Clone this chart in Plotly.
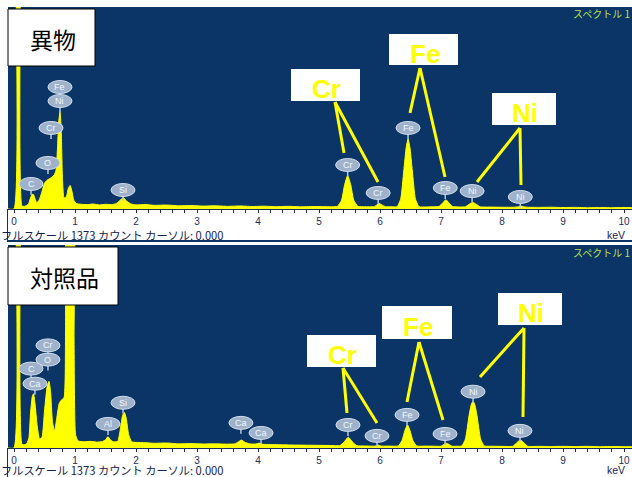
import plotly.graph_objects as go

W, H = 632, 477
FULL_SCALE = 1373

# ---------------- data ----------------
# 異物 (foreign matter) spectrum: energy (keV) / counts
top_kev = [-0.10, 0.00, 0.015, 0.03, 0.10, 0.115, 0.13, 0.17, 0.21, 0.24, 0.27, 0.30, 0.32, 0.345,
           0.37, 0.40, 0.43, 0.46, 0.50, 0.54, 0.58, 0.62, 0.66, 0.69, 0.715, 0.735, 0.755,
           0.775, 0.795, 0.82, 0.86, 0.89, 0.92, 0.95, 0.98, 1.02, 1.10, 1.20, 1.30, 1.40,
           1.50, 1.60, 1.67, 1.73, 1.79, 1.85, 1.92, 2.00, 2.15, 2.30, 2.50, 2.70, 2.90,
           3.10, 3.30, 3.50, 3.70, 3.90, 4.10, 4.30, 4.50, 4.70, 4.90, 5.10, 5.30, 5.37,
           5.42, 5.47, 5.52, 5.57, 5.64, 5.75, 5.90, 5.95, 5.99, 6.03, 6.09, 6.18, 6.28,
           6.34, 6.39, 6.43, 6.46, 6.49, 6.53, 6.58, 6.64, 6.75, 6.88, 6.97, 7.03, 7.08,
           7.13, 7.19, 7.30, 7.40, 7.46, 7.52, 7.58, 7.64, 7.80, 8.00, 8.20, 8.27, 8.31,
           8.35, 8.42, 8.60, 8.80, 9.00, 9.20, 9.40, 9.60, 9.80, 10.00, 10.20]
top_cnt = [0, 0, 2200, 2600, 2600, 2200, 20, 18, 25, 35, 75, 100, 98, 70,
           45, 52, 80, 120, 175, 195, 205, 215, 232, 265, 430, 600, 662,
           520, 200, 75, 85, 140, 160, 120, 60, 38, 32, 30, 34, 28,
           32, 30, 36, 55, 78, 52, 34, 28, 30, 25, 27, 22, 24,
           20, 22, 18, 21, 17, 19, 16, 18, 15, 17, 16, 18, 60,
           165, 228, 165, 60, 18, 15, 16, 28, 38, 28, 16, 15, 16,
           70, 260, 420, 476, 420, 260, 70, 16, 14, 15, 18, 42, 63,
           42, 17, 14, 15, 32, 45, 32, 15, 13, 12, 12, 16, 20,
           16, 12, 11, 12, 10, 11, 9, 10, 9, 10, 9]

# 対照品 (reference sample) spectrum
bot_kev = [-0.10, 0.00, 0.015, 0.03, 0.10, 0.115, 0.13, 0.17, 0.21, 0.245, 0.27, 0.30, 0.32,
           0.345, 0.38, 0.42, 0.46, 0.50, 0.545, 0.574, 0.60, 0.63, 0.665, 0.70, 0.74,
           0.78, 0.82, 0.845, 0.865, 0.88, 0.96, 0.985, 1.01, 1.05, 1.15, 1.25, 1.35,
           1.45, 1.50, 1.54, 1.58, 1.63, 1.70, 1.74, 1.78, 1.81, 1.84, 1.88, 1.93, 2.00,
           2.15, 2.30, 2.50, 2.70, 2.90, 3.10, 3.30, 3.50, 3.62, 3.68, 3.73, 3.78, 3.86,
           3.96, 4.02, 4.08, 4.20, 4.40, 4.60, 4.80, 5.00, 5.20, 5.34, 5.41, 5.48, 5.55,
           5.62, 5.75, 5.92, 5.97, 6.02, 6.15, 6.30, 6.36, 6.41, 6.45, 6.49, 6.54, 6.60,
           6.75, 6.90, 7.00, 7.05, 7.09, 7.13, 7.18, 7.26, 7.34, 7.40, 7.46, 7.50, 7.525,
           7.55, 7.59, 7.65, 7.71, 7.85, 8.00, 8.18, 8.24, 8.30, 8.36, 8.42, 8.60, 8.80,
           9.00, 9.20, 9.40, 9.60, 9.80, 10.00, 10.20]
bot_cnt = [0, 0, 2200, 2600, 2600, 2200, 25, 22, 30, 70, 230, 350, 367,
           300, 150, 60, 75, 250, 420, 451, 380, 180, 115, 200, 300,
           326, 340, 800, 2600, 2600, 2600, 700, 90, 48, 42, 45, 40,
           44, 55, 77, 55, 42, 45, 120, 220, 240, 200, 90, 42, 38,
           36, 32, 34, 28, 30, 27, 28, 26, 28, 42, 54, 40, 28,
           27, 33, 25, 24, 22, 20, 19, 18, 17, 16, 40, 73, 40,
           16, 14, 13, 20, 13, 13, 14, 50, 120, 156, 120, 50, 14,
           13, 12, 12, 25, 32, 25, 12, 12, 14, 60, 220, 300, 315,
           300, 220, 60, 14, 12, 11, 12, 35, 54, 35, 12, 11, 10,
           11, 10, 11, 9, 10, 9, 9]

tick_vals = [0, 1, 2, 3, 4, 5, 6, 7, 8, 9, 10]
tick_text = ["0", "1", "2", "3", "4", "5", "6", "7", "8", "9", "10"]

# element badges: (element, keV, counts)
top_badges = [("Fe", 0.754, 829), ("Ni", 0.754, 734), ("Cr", 0.607, 551), ("O", 0.557, 313),
              ("C", 0.279, 170), ("Si", 1.787, 129), ("Cr", 5.47, 299), ("Cr", 5.97, 109),
              ("Fe", 6.46, 551), ("Fe", 7.07, 143), ("Ni", 7.51, 122), ("Ni", 8.30, 82)]
bot_badges = [("Cr", 0.557, 694), ("O", 0.557, 598), ("C", 0.279, 537), ("Ca", 0.344, 435),
              ("Al", 1.541, 163), ("Si", 1.787, 306), ("Ca", 3.72, 170), ("Ca", 4.05, 102),
              ("Cr", 5.475, 156), ("Cr", 5.951, 82), ("Fe", 6.443, 224), ("Fe", 7.066, 95),
              ("Ni", 7.525, 381), ("Ni", 8.295, 116)]

panel_titles = ["異物", "対照品"]
footer_text = "フルスケール 1373 カウント カーソル: 0.000"
spectrum_name = "スペクトル 1"

# ---------------- layout helpers (pixel -> paper) ----------------
def PX(x):
    return x / W


def PY(y):
    return 1 - y / H


NAVY = "#0a3566"
YEL = "#ffff00"
AXC = "#1c2c5c"

X_RANGE = [(8 - 14) / 61, (632 - 14) / 61]
TOP = (7, 209)
BOT = (245, 448)

fig = go.Figure()
fig.add_trace(go.Scatter(x=top_kev, y=top_cnt, mode="lines", fill="tozeroy",
                         line=dict(color=YEL, width=1, shape="spline", smoothing=0.5),
                         fillcolor=YEL, xaxis="x", yaxis="y", hoverinfo="skip"))
fig.add_trace(go.Scatter(x=bot_kev, y=bot_cnt, mode="lines", fill="tozeroy",
                         line=dict(color=YEL, width=1, shape="spline", smoothing=0.5),
                         fillcolor=YEL, xaxis="x2", yaxis="y2", hoverinfo="skip"))

xax = dict(range=X_RANGE, domain=[PX(8), 1], showgrid=False, zeroline=False,
           showline=True, linecolor=AXC, linewidth=1, ticks="outside", ticklen=3,
           tickwidth=1, tickcolor=AXC, tickvals=tick_vals, ticktext=tick_text,
           tickfont=dict(family="Liberation Sans", size=10, color=AXC),
           minor=dict(ticks="outside", dtick=0.2, tick0=0, ticklen=3, tickcolor=AXC),
           fixedrange=True)
yax = dict(range=[0, FULL_SCALE], showgrid=False, zeroline=False, showticklabels=False,
           ticks="", showline=False, fixedrange=True)

fig.update_layout(
    width=W, height=H, margin=dict(l=0, r=0, t=0, b=0),
    paper_bgcolor="white", plot_bgcolor=NAVY, showlegend=False,
    xaxis=dict(xax, anchor="y"),
    yaxis=dict(yax, domain=[PY(TOP[1]), PY(TOP[0])], anchor="x"),
    xaxis2=dict(xax, anchor="y2"),
    yaxis2=dict(yax, domain=[PY(BOT[1]), PY(BOT[0])], anchor="x2"),
)

shapes = []
annots = []


def text_at(x, y, text, size, color, family, xanchor="center", yanchor="middle"):
    annots.append(dict(xref="paper", yref="paper", x=PX(x), y=PY(y), text=text,
                       showarrow=False, xanchor=xanchor, yanchor=yanchor, borderpad=0,
                       font=dict(family=family, size=size, color=color)))


# separator line between panels and strip borders
shapes.append(dict(type="rect", xref="paper", yref="paper", x0=PX(7), x1=1,
                   y0=PY(242), y1=PY(240), fillcolor=NAVY, line=dict(width=0), layer="above"))
for (a, b) in [(209, 240), (448, 477)]:
    shapes.append(dict(type="line", xref="paper", yref="paper", x0=PX(7.5), x1=PX(7.5),
                       y0=PY(b), y1=PY(a), line=dict(color=NAVY, width=1)))

# footer texts and keV labels
for base in (235, 469.5):
    text_at(0, base, footer_text, 11.2, "#141c50", "Noto Sans CJK JP", xanchor="left")
    text_at(606, base, "keV", 10.5, "#141c50", "Liberation Sans", xanchor="left")

# spectrum name
for ytop in (13, 252):
    text_at(631, ytop, spectrum_name, 10, "#b8e050", "Noto Sans CJK JP", xanchor="right")

# panel title boxes
for title, (x0, x1, y0, y1) in zip(panel_titles, [(8, 95, 9, 66), (8, 118, 247, 305)]):
    shapes.append(dict(type="rect", xref="paper", yref="paper", x0=PX(x0), x1=PX(x1),
                       y0=PY(y1), y1=PY(y0), fillcolor="white",
                       line=dict(color="black", width=1), layer="above"))
    text_at((x0 + x1) / 2 + 1, (y0 + y1) / 2 + 1, title, 23, "black", "Noto Sans CJK JP")


# element badges
def add_badges(badges, xr, yr):
    for el, kev, cnt in badges:
        shapes.append(dict(type="line", xref=xr, yref=yr, xsizemode="pixel", ysizemode="pixel",
                           xanchor=kev, yanchor=cnt, x0=0, x1=0, y0=-6, y1=-11,
                           line=dict(color="#b8c8dc", width=1.5), layer="above"))
        shapes.append(dict(type="circle", xref=xr, yref=yr, xsizemode="pixel", ysizemode="pixel",
                           xanchor=kev, yanchor=cnt, x0=-12, x1=12, y0=-6.5, y1=6.5,
                           fillcolor="#9fb2cc", line=dict(color="#d4deec", width=1),
                           layer="above"))
        annots.append(dict(xref=xr, yref=yr, x=kev, y=cnt, text=el, showarrow=False,
                           xanchor="center", yanchor="middle",
                           font=dict(family="Liberation Sans", size=9, color="#f2f6fb")))


add_badges(top_badges, "x", "y")
add_badges(bot_badges, "x2", "y2")

# callout boxes with yellow element names and pointer lines (pixel positions)
callouts = [
    ("Cr", (291, 360, 69, 101), (335, 102), [(344, 153), (378, 182)]),
    ("Fe", (389, 458, 34, 65), (420, 68), [(410, 113), (445, 177)]),
    ("Ni", (492, 556, 93, 125), (520, 128), [(477, 182), (521, 185)]),
    ("Cr", (307, 376, 335, 367), (343, 368), [(347, 413), (377, 423)]),
    ("Fe", (382, 452, 306, 339), (419, 342), [(407, 402), (443, 420)]),
    ("Ni", (498, 562, 293, 325), (524, 328), [(480, 377), (523, 417)]),
]
for el, (x0, x1, y0, y1), (sx, sy), ends in callouts:
    shapes.append(dict(type="rect", xref="paper", yref="paper", x0=PX(x0), x1=PX(x1),
                       y0=PY(y1), y1=PY(y0), fillcolor="white", line=dict(width=0),
                       layer="above"))
    text_at((x0 + x1) / 2 + 1, (y0 + y1) / 2 + 4, "<b>%s</b>" % el, 26, YEL,
            "Liberation Sans")
    for ex, ey in ends:
        shapes.append(dict(type="line", xref="paper", yref="paper", x0=PX(sx), y0=PY(sy),
                           x1=PX(ex), y1=PY(ey), line=dict(color=YEL, width=3),
                           layer="above"))

fig.update_layout(shapes=shapes, annotations=annots)
fig.write_html("out.html", config={"displayModeBar": False},
               post_script="document.body.style.margin='0';")
